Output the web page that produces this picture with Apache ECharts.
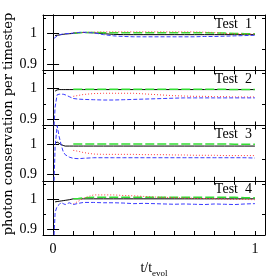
<!DOCTYPE html>
<html><head><meta charset="utf-8">
<script src="https://cdn.jsdelivr.net/npm/echarts@6/dist/echarts.min.js"></script>
<style>html,body{margin:0;padding:0;background:#fff}#c{width:279px;height:279px}</style>
</head><body><div id="c"></div>
<script>
// time grid (t / t_evol)
const T = [0.005,0.01,0.02,0.03,0.04,0.05,0.06,0.08,0.1,0.125,0.15,0.2,0.25,0.3,0.35,0.4,0.45,0.5,0.55,0.6,0.65,0.7,0.75,0.8,0.85,0.9,0.95,1.0];
const panelTitles = ['Test  1','Test  2','Test  3','Test  4'];
const xTickValues = [0,0.1,0.2,0.3,0.4,0.5,0.6,0.7,0.8,0.9,1.0];
const xLabelValues = [0,1];
const yMajorValues = [0.9,1.0];
const yMinorValues = [0.95,1.05];

// Test 1
const black1 = [null,0.993,0.994,0.995,0.996,0.997,0.998,0.999,1.000,1.002,1.003,1.002,0.999,0.997,0.996,0.996,0.996,0.996,0.996,0.996,0.996,0.996,0.996,0.996,0.996,0.996,0.996,0.996];
const green1 = [null,null,null,null,null,null,null,null,1.001,1.002,1.003,1.003,1.002,1.002,1.002,1.002,1.002,1.002,1.002,1.002,1.002,1.002,1.002,1.001,1.001,1.000,0.999,0.999];
const red1   = [null,null,null,null,null,null,null,null,1.002,1.003,1.003,1.004,1.005,1.005,1.005,1.005,1.005,1.005,1.005,1.005,1.005,1.005,1.004,1.003,1.000,0.999,0.998,0.998];
const blue1  = [0.984,0.987,0.992,0.995,0.997,0.998,0.999,1.000,1.001,1.003,1.004,1.002,0.996,0.992,0.990,0.989,0.989,0.989,0.989,0.989,0.989,0.989,0.990,0.990,0.991,0.992,0.993,0.994];
// Test 2
const black2 = [null,0.992,0.996,0.997,0.997,0.997,0.997,0.997,0.997,0.997,0.997,0.997,0.997,0.997,0.997,0.997,0.997,0.997,0.997,0.997,0.997,0.997,0.997,0.997,0.997,0.997,0.997,0.997];
const green2 = [null,null,null,null,null,null,null,null,0.998,0.998,0.998,0.998,0.998,0.998,0.998,0.998,0.998,0.998,0.998,0.998,0.998,0.998,0.998,0.998,0.998,0.997,0.997,0.997];
const red2   = [null,null,null,null,null,null,null,null,0.975,0.978,0.981,0.984,0.985,0.985,0.985,0.985,0.983,0.981,0.979,0.977,0.976,0.975,0.975,0.974,0.974,0.973,0.973,0.973];
const blue2  = [0.880,0.940,0.980,0.982,0.982,0.982,0.980,0.974,0.968,0.966,0.965,0.964,0.963,0.963,0.964,0.965,0.966,0.967,0.968,0.969,0.970,0.970,0.970,0.970,0.970,0.970,0.970,0.970];
// Test 3
const black3 = [null,1.002,1.006,1.002,0.998,0.995,0.993,0.993,0.993,0.993,0.993,0.993,0.993,0.993,0.993,0.993,0.993,0.993,0.993,0.993,0.993,0.993,0.993,0.993,0.993,0.993,0.993,0.993];
const green3 = [null,null,null,null,null,null,null,null,1.000,1.000,1.000,1.000,1.000,1.000,1.000,1.000,1.000,1.000,1.000,1.000,1.000,1.000,1.000,1.000,1.000,0.999,0.999,0.999];
const red3   = [null,null,null,null,null,null,null,null,0.979,0.976,0.972,0.967,0.966,0.966,0.966,0.966,0.965,0.965,0.965,0.964,0.964,0.963,0.963,0.963,0.962,0.962,0.962,0.962];
const blue3  = [0.880,0.990,1.060,1.024,0.997,0.975,0.965,0.957,0.953,0.952,0.953,0.955,0.955,0.955,0.955,0.955,0.955,0.955,0.955,0.955,0.955,0.955,0.955,0.955,0.955,0.955,0.955,0.954];
// Test 4
const black4 = [null,0.990,0.991,0.992,0.993,0.994,0.995,0.997,1.000,1.000,1.000,1.000,1.000,1.000,1.000,1.000,1.000,1.000,1.000,1.000,1.000,1.000,1.000,1.000,1.000,1.000,1.000,1.000];
const green4 = [null,null,null,null,null,null,null,null,1.000,1.001,1.003,1.005,1.005,1.005,1.005,1.005,1.005,1.005,1.005,1.005,1.005,1.005,1.005,1.005,1.005,1.005,1.004,1.004];
const red4   = [null,null,null,null,null,null,null,null,0.983,0.992,1.002,1.013,1.013,1.013,1.011,1.010,1.008,1.006,1.005,1.004,1.003,1.002,1.001,1.000,0.999,0.998,0.998,0.997];
const blue4  = [0.880,0.955,0.975,0.981,0.988,0.984,0.981,0.987,0.981,0.985,0.988,0.988,0.987,0.987,0.986,0.984,0.985,0.984,0.983,0.982,0.983,0.982,0.981,0.983,0.982,0.981,0.983,0.984];

const panels = [[black1,green1,red1,blue1],[black2,green2,red2,blue2],[black3,green3,red3,blue3],[black4,green4,red4,blue4]];

const FONT = 'Liberation Serif';
const L = 43, W = 222, TOP = 15, H = 55.25;
const pairs = v => T.map((t,i)=> v[i]==null ? null : [t, v[i]]).filter(p=>p);

const grids=[], xAxes=[], yAxes=[], series=[], graphics=[];
const styles = [
  {color:'#000000', type:'solid', width:1},
  {color:'#33e033', type:[9,3], width:1.5},
  {color:'#ff3b3b', type:[1,2], width:1},
  {color:'#3b3bff', type:[4,2], width:1}
];
panels.forEach((p,i)=>{
  grids.push({left:L, width:W, top:TOP+i*H, height:H});
  const line = {show:true, lineStyle:{color:'#000', width:1}};
  ['bottom','top'].forEach(pos=>{
    xAxes.push({type:'value', gridIndex:i, position:pos, min:-0.05, max:1.05,
      axisLine:line, splitLine:{show:false},
      axisTick:{show:true, inside:true, length:4, customValues:xTickValues, lineStyle:{color:'#000'}},
      axisLabel:{show: pos==='bottom' && i===3, customValues:xLabelValues, margin:7,
        fontFamily:FONT, fontSize:14, color:'#000', formatter:v=>String(v)},
      name: (pos==='bottom' && i===3) ? '{a|t/t}{b|evol}' : '',
      nameLocation:'middle', nameGap:23,
      nameTextStyle:{rich:{a:{fontFamily:FONT, fontSize:14, color:'#000', lineHeight:20},
                           b:{fontFamily:FONT, fontSize:9, color:'#000', lineHeight:9, verticalAlign:'bottom'}}}
    });
  });
  [['left',yMajorValues,6,true],['right',yMajorValues,6,false],['left',yMinorValues,3,false],['right',yMinorValues,3,false]].forEach(([pos,vals,len,lab])=>{
    yAxes.push({type:'value', gridIndex:i, position:pos, min:0.88, max:1.06,
      axisLine:line, splitLine:{show:false},
      axisTick:{show:true, inside:true, length:len, customValues:vals, lineStyle:{color:'#000'}},
      axisLabel:{show:lab, customValues:yMajorValues, margin:6, fontFamily:FONT, fontSize:14, color:'#000',
        formatter:v=> Math.abs(v-1)<1e-6 ? '1' : '0.9'}
    });
  });
  p.forEach((vals,k)=>{
    series.push({type:'line', xAxisIndex:2*i, yAxisIndex:4*i, data:pairs(vals), showSymbol:false,
      silent:true, animation:false, lineStyle:styles[k], z:2+k});
  });
  graphics.push({type:'text', right:279-252, top:TOP+i*H+2,
    style:{text:panelTitles[i], font:'14px "'+FONT+'"', fill:'#000'}});
});
graphics.push({type:'text', x:9, y:124, rotation:Math.PI/2,
  style:{text:'photon conservation per timestep', font:'13px "DejaVu Serif"', fill:'#000', align:'center', verticalAlign:'middle'}});

const chart = echarts.init(document.getElementById('c'), null, {renderer:'canvas'});
chart.setOption({animation:false, grid:grids, xAxis:xAxes, yAxis:yAxes, series:series, graphic:graphics});
</script></body></html>
